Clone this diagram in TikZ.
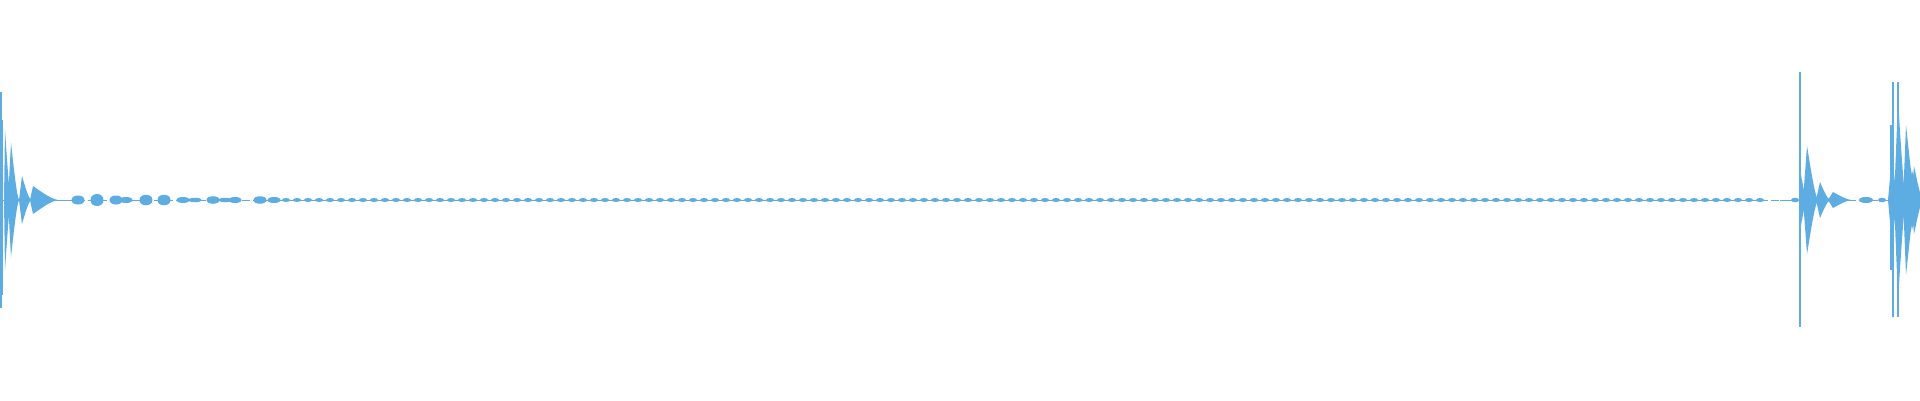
\documentclass[tikz,border=0pt]{standalone}
\usepackage{tikz}
\definecolor{wave}{RGB}{93,173,226}
\tikzset{
  wave/.style={fill=wave, draw=none},
  spike/.style={draw=wave, line width=1.6pt},
  base/.style={draw=wave, line width=1pt, dash pattern=on 8pt off 3pt}
}
% burst: start x, attack, length, amplitude
\newcommand{\burst}[4]{%
  \fill[wave] (#1,200) -- (#1+#2,200-#4) .. controls (#1+#2+0.4*#3,200-0.5*#4) and (#1+#2+0.7*#3,200-0.1*#4) .. (#1+#2+#3,200)
     .. controls (#1+#2+0.7*#3,200+0.1*#4) and (#1+#2+0.4*#3,200+0.5*#4) .. (#1+#2,200+#4) -- cycle;}
% blob: centre x, half width, amplitude
\newcommand{\blob}[3]{%
  \fill[wave] (#1-#2,200) .. controls (#1-#2,200-#3) and (#1+#2,200-#3) .. (#1+#2,200)
     .. controls (#1+#2,200+#3) and (#1-#2,200+#3) .. (#1-#2,200) -- cycle;}
\begin{document}
\begin{tikzpicture}[x=1pt, y=-1pt]
   \useasboundingbox (0,0) rectangle (1920,400);
   % Base line
   \draw[base] (0,200) -- (1920,200);
   \draw[base, solid, line width=0.8pt] (40,200) -- (75,200) (1780,200) -- (1800,200);
   % Left attack %%%%%%%%%%%%%%%%%%%%%%%%%%%%%%%%%%%%%%%%%%%%%%%%%%
   \draw[spike] (0.8,92) -- (0.8,308);
   \draw[spike] (2.5,120) -- (2.5,295);
   \burst{4}{1}{6}{70}
   \burst{8}{3}{8}{57}
   \burst{19}{3}{9}{24}
   \burst{30}{3}{25}{14}
   \foreach \xx/\aa in {78/6,97/8,116/6,126/4,146/7,164/7,183/4,195/3,213/5,225/3,235/4,260/5,274/4}
      \blob{\xx}{6.5}{\aa};
   % Middle ripple
   \foreach \xx in {286,297,...,1770}
      \blob{\xx}{4}{2.6};
   % Right attack %%%%%%%%%%%%%%%%%%%%%%%%%%%%%%%%%%%%%%%%%%%%%%%%%%
   \blob{1795}{4}{3}
   \draw[spike] (1800,72) -- (1800,327);
   \burst{1799}{2}{6}{25}
   \burst{1803}{4}{11}{54}
   \burst{1816}{4}{10}{18}
   \burst{1828}{5}{18}{8}
   \blob{1866}{7}{4}
   \blob{1882}{4}{3}
   \draw[spike] (1893,82) -- (1893,317);
   \draw[spike] (1898,82) -- (1898,317);
   \draw[spike] (1891,125) -- (1891,270);
   \burst{1888}{4}{6}{45}
   \burst{1894}{4}{8}{100}
   \burst{1903}{3}{10}{75}
   \burst{1906}{6}{8}{30}
   \burst{1911}{3}{9}{34}
\end{tikzpicture}
\end{document}
